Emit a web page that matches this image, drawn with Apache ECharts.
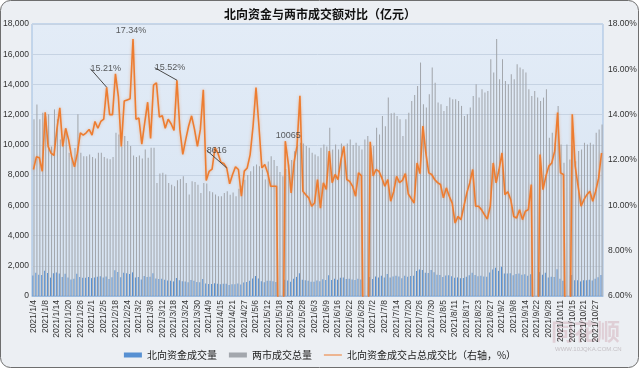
<!DOCTYPE html>
<html><head><meta charset="utf-8">
<script src="https://cdn.jsdelivr.net/npm/echarts@6/dist/echarts.min.js"></script>
<style>html,body{margin:0;padding:0;background:#fff;}#c{width:640px;height:369px;}</style>
</head><body><div id="c"></div>
<script>
const categories = [
'2021/1/4','2021/1/5','2021/1/6','2021/1/7','2021/1/8','2021/1/11','2021/1/12','2021/1/13','2021/1/14','2021/1/15','2021/1/18','2021/1/19','2021/1/20','2021/1/21','2021/1/22','2021/1/25','2021/1/26','2021/1/27','2021/1/28','2021/1/29',
'2021/2/1','2021/2/2','2021/2/3','2021/2/4','2021/2/5','2021/2/8','2021/2/9','2021/2/10','2021/2/18','2021/2/19','2021/2/22','2021/2/23','2021/2/24','2021/2/25','2021/2/26',
'2021/3/1','2021/3/2','2021/3/3','2021/3/4','2021/3/5','2021/3/8','2021/3/9','2021/3/10','2021/3/11','2021/3/12','2021/3/15','2021/3/16','2021/3/17','2021/3/18','2021/3/19','2021/3/22','2021/3/23','2021/3/24','2021/3/25','2021/3/26','2021/3/29','2021/3/30','2021/3/31',
'2021/4/7','2021/4/8','2021/4/9','2021/4/12','2021/4/13','2021/4/14','2021/4/15','2021/4/16','2021/4/19','2021/4/20','2021/4/21','2021/4/22','2021/4/23','2021/4/26','2021/4/27','2021/4/28','2021/4/29','2021/4/30',
'2021/5/6','2021/5/7','2021/5/10','2021/5/11','2021/5/12','2021/5/13','2021/5/14','2021/5/17','2021/5/18','2021/5/19','2021/5/20','2021/5/21','2021/5/24','2021/5/25','2021/5/26','2021/5/27','2021/5/28','2021/5/31',
'2021/6/1','2021/6/2','2021/6/3','2021/6/4','2021/6/7','2021/6/8','2021/6/9','2021/6/10','2021/6/11','2021/6/15','2021/6/16','2021/6/17','2021/6/18','2021/6/21','2021/6/22','2021/6/23','2021/6/24','2021/6/25','2021/6/28','2021/6/29','2021/6/30',
'2021/7/1','2021/7/2','2021/7/5','2021/7/6','2021/7/7','2021/7/8','2021/7/9','2021/7/12','2021/7/13','2021/7/14','2021/7/15','2021/7/16','2021/7/19','2021/7/20','2021/7/21','2021/7/22','2021/7/23','2021/7/26','2021/7/27','2021/7/28','2021/7/29','2021/7/30',
'2021/8/2','2021/8/3','2021/8/4','2021/8/5','2021/8/6','2021/8/9','2021/8/10','2021/8/11','2021/8/12','2021/8/13','2021/8/16','2021/8/17','2021/8/18','2021/8/19','2021/8/20','2021/8/23','2021/8/24','2021/8/25','2021/8/26','2021/8/27','2021/8/30','2021/8/31',
'2021/9/1','2021/9/2','2021/9/3','2021/9/6','2021/9/7','2021/9/8','2021/9/9','2021/9/10','2021/9/13','2021/9/14','2021/9/15','2021/9/16','2021/9/17','2021/9/22','2021/9/23','2021/9/24','2021/9/27','2021/9/28','2021/9/29','2021/9/30',
'2021/10/8','2021/10/11','2021/10/12','2021/10/13','2021/10/14','2021/10/15','2021/10/18','2021/10/19','2021/10/20','2021/10/21','2021/10/22','2021/10/25','2021/10/26','2021/10/27','2021/10/28','2021/10/29'
];

// 北向资金成交量（亿元）
const northboundVolume = [
1354,1539,1414,1395,1678,1515,1218,1507,1562,1481,
1264,1474,1223,1097,1147,1478,1251,1212,1206,1251,
1183,1222,1270,1299,1216,1290,1126,1233,1706,1582,
1247,1545,1502,1458,1566,1231,1251,1091,1324,1250,
1270,1501,1152,1126,1137,1077,1032,1002,966,1189,
1035,971,965,906,1059,1008,929,910,1129,826,
797,796,842,812,785,808,807,734,778,772,
822,759,886,932,1011,1160,1322,1160,975,910,
1017,1003,976,932,0,0,1078,1033,950,1140,
1265,1504,1073,1039,1013,944,946,1030,969,1102,
1059,1379,1067,1139,1081,1212,1222,1125,1146,1084,
1055,1134,1096,0,0,1256,1121,1289,1229,1334,
1218,1463,1231,1286,1343,1286,1174,1333,1274,1330,
1343,1650,1761,1713,1535,1526,1718,1573,1408,1386,
1264,1355,1366,1315,1200,1228,1179,1186,1268,1370,
1533,1395,1308,1342,1291,1276,1561,1756,1868,1662,
1929,1490,1485,1505,1365,1448,1483,1406,1441,1342,
1446,0,0,1580,1404,1543,1228,1282,1256,1773,
1146,1001,0,0,1391,1046,1040,966,1039,1050,
1077,1021,1147,1234,1397
];

// 两市成交总量（亿元）
const marketTotal = [
11690,12680,11690,12130,11900,12020,9900,12350,11700,10360,
10030,11000,9480,9130,9800,12020,9480,9250,9250,9370,
9200,9100,9480,9480,9200,9100,9050,9200,10800,10690,
9900,10580,10250,9920,9300,9200,9300,9100,9700,9150,
9810,9810,7480,8100,8150,8040,7480,7370,7260,7660,
7750,7930,7480,6710,7590,7550,7370,6820,7480,7440,
6930,6860,6710,6600,6600,6820,6930,6700,6850,6600,
7100,7300,7700,8000,8260,8590,8700,8590,8370,7710,
8900,9250,9000,8600,8200,7930,8400,8700,9000,9580,
10030,10140,10100,9920,9810,9480,9370,9250,9810,10030,
9900,11130,9700,10030,9700,10100,9700,10100,10360,10000,
10140,9920,9700,10360,10580,9810,9920,11130,10690,11910,
11240,13130,12090,12130,11910,11690,10580,11690,12130,12910,
13300,13900,15450,12690,12470,13350,15120,14120,12800,12690,
12240,12580,13130,13020,13020,12910,12580,11910,12020,12470,
13240,14010,13130,13680,13460,13570,15670,14790,17000,14350,
15670,14230,14010,14680,14350,15340,15120,15010,14790,13680,
13240,13570,13130,12910,13130,13680,10470,10800,10140,12580,
10030,8810,10030,9030,9920,8920,9590,9700,10140,10030,
10140,10030,10800,11020,11350
];

// 北向资金成交占总成交比（%）
const northboundRatio = [
11.58,12.14,12.10,11.50,14.10,12.60,12.30,12.20,13.35,14.30,
12.60,13.40,12.90,12.15,11.70,12.30,13.20,13.10,13.20,13.35,
13.10,13.70,13.40,13.70,13.80,15.21,14.00,14.00,15.80,14.80,
12.60,14.60,14.65,14.70,17.34,13.80,13.85,12.70,13.65,14.55,
12.95,15.30,15.40,13.90,13.95,13.40,13.80,13.60,13.30,15.52,
13.35,12.25,12.90,13.50,13.95,13.35,12.60,13.35,15.10,11.10,
11.50,11.60,12.55,12.30,11.90,11.85,11.65,10.95,11.36,11.70,
11.58,10.40,11.51,11.65,12.24,13.50,15.20,13.50,11.65,11.80,
11.43,10.84,10.84,10.84,0,0,12.83,11.87,10.55,11.90,
12.61,14.83,10.62,10.47,10.33,9.96,10.10,11.14,9.88,10.99,
10.70,12.39,11.00,11.36,11.14,12.00,12.60,11.14,11.06,10.84,
10.40,11.43,11.30,0,0,12.80,11.30,11.58,11.50,11.20,
10.84,11.14,10.18,10.60,11.28,11.00,11.10,11.40,10.50,10.30,
10.10,11.87,11.40,13.50,12.31,11.43,11.36,11.14,11.00,10.92,
10.33,10.77,10.40,10.10,9.22,9.51,9.37,9.96,10.55,10.99,
11.58,9.96,9.96,9.81,9.59,9.40,9.96,11.87,10.99,11.58,
12.31,10.47,10.60,10.25,9.51,9.44,9.81,9.37,9.74,9.81,
10.92,0,0,12.24,10.69,11.28,11.73,11.87,12.39,14.09,
11.43,11.36,0,0,14.02,11.73,10.84,9.96,10.25,10.47,
10.62,10.18,10.62,11.20,12.31
];

// annotation texts placed on the ratio line (category index -> text)
const annotationIndex = [25, 34, 49, 66, 86];
const annotationText  = ['15.21%', '17.34%', '15.52%', '8616', '10065'];

const seriesNames = ['北向资金成交量', '两市成交总量', '北向资金成交占总成交比（右轴，%）'];

// ---- presentation ----
const labelShift = {25: [-1, -10, true], 34: [-2, 0, false], 49: [-7, -4, true], 66: [-10, -9, true], 86: [3, 3, false]};
const annData = annotationIndex.map((idx, k) => ({
  value: [categories[idx], northboundRatio[idx]],
  label: {formatter: annotationText[k]},
  labelLine: {show: labelShift[idx][2]}
}));

const chart = echarts.init(document.getElementById('c'), null, {renderer: 'canvas'});
const font = 'Liberation Sans, Arial, sans-serif';
chart.setOption({
  animation: false,
  graphic: [
    {type: 'rect', z: -10, silent: true, shape: {x: 0.5, y: 0.5, width: 638, height: 367, r: 10},
     style: {fill: '#eceff3', stroke: '#6e6e6e', lineWidth: 1}},
    {type: 'text', z: -5, silent: true, style: {x: 551, y: 320, text: '同花顺', fill: 'rgba(200,150,160,0.35)', font: 'bold 23px "Noto Sans CJK SC"'}},
    {type: 'text', z: -5, silent: true, style: {x: 555, y: 346, text: 'WWW.10JQKA.COM.CN', fill: 'rgba(170,160,165,0.6)', font: '6px ' + font}}
  ],
  title: {
    text: '北向资金与两市成交额对比（亿元）', left: 'center', top: 3,
    textStyle: {fontSize: 12, fontWeight: 'bold', color: '#111', fontFamily: 'Noto Sans CJK SC'}
  },
  legend: {
    bottom: 4, left: 'center', itemWidth: 18, itemHeight: 5, itemGap: 12,
    textStyle: {fontSize: 10, color: '#222', fontFamily: 'Noto Sans CJK SC'},
    data: [
      {name: seriesNames[0], icon: 'rect'},
      {name: seriesNames[1], icon: 'rect'},
      {name: seriesNames[2], icon: 'path://M0,0h0.01v0.01h-0.01z M0,1.6h30v1.8h-30z M0,5h0.01v0.01h-0.01z'}
    ]
  },
  grid: {
    left: 31, right: 37, top: 24, bottom: 73, show: true,
    borderColor: '#9fbde0', borderWidth: 1,
    backgroundColor: new echarts.graphic.LinearGradient(0, 0, 0, 1, [
      {offset: 0, color: '#e3ecf7'}, {offset: 1, color: '#d6e3f2'}])
  },
  xAxis: {
    type: 'category', data: categories, boundaryGap: true,
    axisLine: {show: true, lineStyle: {color: '#9fbde0'}},
    axisTick: {show: false},
    axisLabel: {interval: 3, rotate: 90, fontSize: 8.5, color: '#333', margin: 4, fontFamily: font}
  },
  yAxis: [
    {
      type: 'value', min: 0, max: 18000, interval: 2000,
      axisLine: {show: false}, axisTick: {show: false},
      splitLine: {lineStyle: {color: '#c6d3e3', width: 1}},
      axisLabel: {fontSize: 8.5, color: '#333', margin: 3, fontFamily: font,
        formatter: v => v.toLocaleString('en-US')}
    },
    {
      type: 'value', min: 6, max: 18, interval: 2,
      axisLine: {show: false}, axisTick: {show: false}, splitLine: {show: false},
      axisLabel: {fontSize: 8.5, color: '#333', margin: 5, fontFamily: font,
        formatter: v => v.toFixed(2) + '%'}
    }
  ],
  series: [
    {
      name: seriesNames[0], type: 'bar', data: northboundVolume,
      barGap: '0%', barCategoryGap: '28%',
      itemStyle: {color: '#5790d2'}
    },
    {
      name: seriesNames[1], type: 'bar', data: marketTotal,
      itemStyle: {color: '#a3a7ad'}
    },
    {
      name: seriesNames[2], type: 'line', yAxisIndex: 1, data: northboundRatio,
      symbol: 'none', clip: true, z: 5,
      lineStyle: {color: '#ed7d31', width: 1.6, shadowColor: 'rgba(237,125,49,0.45)', shadowBlur: 3},
      itemStyle: {color: '#ed7d31'}
    },
    {
      type: 'scatter', yAxisIndex: 1, data: annData, symbolSize: 0, z: 6, silent: true,
      label: {show: true, position: 'top', distance: 4, fontSize: 9, color: '#333', fontFamily: font},
      labelLine: {lineStyle: {color: '#4a4a4a', width: 1}},
      labelLayout: p => {
        const idx = annotationIndex[p.dataIndex];
        const s = labelShift[idx];
        return {dx: s[0], dy: s[1]};
      }
    }
  ]
});
</script></body></html>
